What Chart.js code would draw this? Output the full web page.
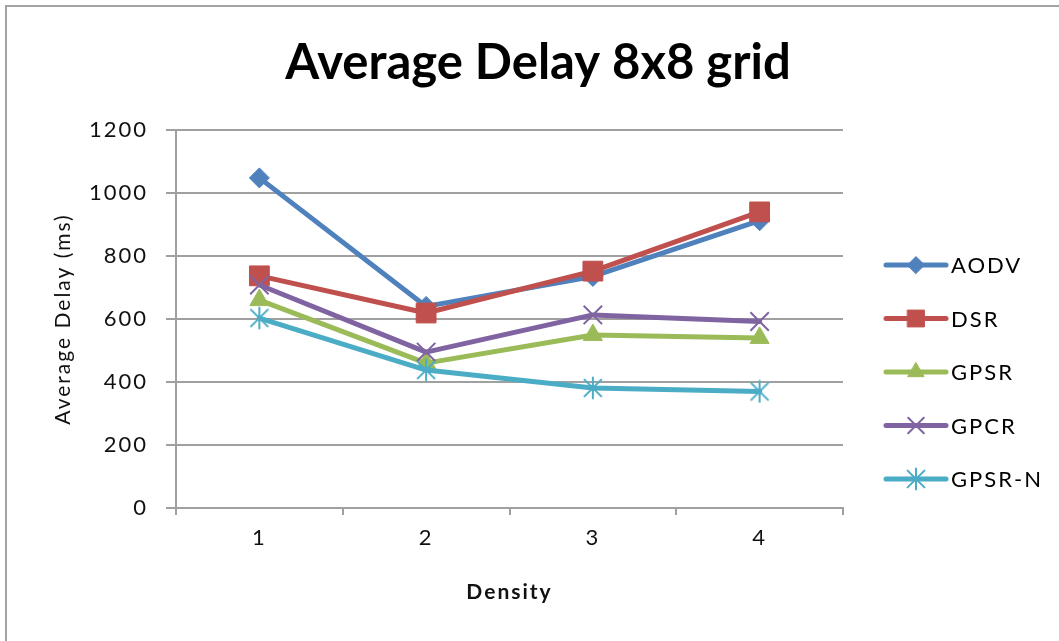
<!DOCTYPE html>
<html>
<head>
<meta charset="utf-8">
<title>Average Delay 8x8 grid</title>
<script src="https://cdn.jsdelivr.net/npm/chart.js@4/dist/chart.umd.min.js"></script>
<style>
  html, body { margin: 0; padding: 0; background: #fff; overflow: hidden; }
  #frame {
    position: absolute; left: 5px; top: 5px;
    width: 1200px; height: 800px;
    border: 2px solid #a3a3a3; box-sizing: border-box;
  }
  #wrap { position: absolute; left: 0; top: 0; width: 1059px; height: 641px; }
</style>
</head>
<body>
<div id="frame"></div>
<div id="wrap"><canvas id="chart"></canvas></div>
<script>
// Average end-to-end delay (ms) per node density
const categories = ['1', '2', '3', '4'];
const aodv  = [1048, 640, 735, 912];
const dsr   = [737, 619, 752, 940];
const gpsr  = [660, 460, 549, 540];
const gpcr  = [708, 495, 613, 592];
const gpsrN = [603, 438, 381, 370];
const seriesNames = ['AODV', 'DSR', 'GPSR', 'GPCR', 'GPSR-N'];
const yTicks = [0, 200, 400, 600, 800, 1000, 1200];

const FONT = 'Lato, "Open Sans", sans-serif';

// six-armed asterisk marker (X plus a vertical bar)
function asterisk(color, size) {
  const c = document.createElement('canvas');
  c.width = size; c.height = size;
  const g = c.getContext('2d');
  const m = size / 2, r = size / 2 - 1.5;
  g.strokeStyle = color; g.lineWidth = 2; g.lineCap = 'round';
  g.beginPath();
  g.moveTo(m, m - r); g.lineTo(m, m + r);
  const d = r * 0.8;
  g.moveTo(m - d, m - d); g.lineTo(m + d, m + d);
  g.moveTo(m + d, m - d); g.lineTo(m - d, m + d);
  g.stroke();
  return c;
}

const colors = ['#4F81BD', '#C0504D', '#9BBB59', '#8064A2', '#4BACC6'];
const styles = [
  { pointStyle: 'rectRot', pointRadius: 10, pointBorderWidth: 1 },
  { pointStyle: 'rect', pointRadius: 14, pointBorderWidth: 1 },
  { pointStyle: 'triangle', pointRadius: 11, pointBorderWidth: 1 },
  { pointStyle: 'crossRot', pointRadius: 13, pointBorderWidth: 2 },
  { pointStyle: asterisk(colors[4], 24), pointRadius: 12, pointBorderWidth: 2 }
];
const values = [aodv, dsr, gpsr, gpcr, gpsrN];

const datasets = values.map((v, i) => Object.assign({
  label: seriesNames[i],
  data: v,
  borderColor: colors[i],
  backgroundColor: colors[i],
  pointBackgroundColor: colors[i],
  pointBorderColor: colors[i],
  borderWidth: 5,
  borderJoinStyle: 'round',
  borderCapStyle: 'round',
  tension: 0,
  order: values.length - i
}, styles[i]));

// spaced-out text for ticks and labels
const spacing = {
  id: 'spacing',
  beforeDraw(chart) { chart.ctx.letterSpacing = '2px'; }
};

// chart title and line+marker legend on the right
const decorations = {
  id: 'decorations',
  afterDraw(chart) {
    const ctx = chart.ctx;
    ctx.save();
    ctx.letterSpacing = '0px';
    ctx.fillStyle = '#000';
    ctx.font = 'bold 49px ' + FONT;
    ctx.textAlign = 'center';
    ctx.textBaseline = 'alphabetic';
    ctx.fillText('Average Delay 8x8 grid', 538, 79);

    ctx.letterSpacing = '2px';
    ctx.font = '22px ' + FONT;
    ctx.textAlign = 'left';
    ctx.textBaseline = 'middle';
    const x0 = 886, x1 = 946, top = 265, step = 53.5;
    chart.data.datasets.forEach((ds, i) => {
      const y = top + i * step;
      ctx.strokeStyle = ds.borderColor;
      ctx.lineWidth = 5;
      ctx.lineCap = 'round';
      ctx.beginPath();
      ctx.moveTo(x0, y); ctx.lineTo(x1, y);
      ctx.stroke();
      ctx.fillStyle = ds.pointBackgroundColor;
      ctx.strokeStyle = ds.pointBorderColor;
      ctx.lineWidth = ds.pointBorderWidth;
      Chart.helpers.drawPoint(ctx, {
        pointStyle: ds.pointStyle,
        radius: ds.pointRadius * 0.85,
        rotation: 0,
        borderWidth: ds.pointBorderWidth
      }, (x0 + x1) / 2, y);
      ctx.fillStyle = '#000';
      ctx.fillText(ds.label, 951, y + 1);
    });
    ctx.restore();
  }
};

new Chart(document.getElementById('chart'), {
  type: 'line',
  data: { labels: categories, datasets },
  plugins: [spacing, decorations],
  options: {
    responsive: true,
    maintainAspectRatio: false,
    animation: false,
    events: [],
    layout: { padding: { top: 130, left: 0, right: 0, bottom: 0 } },
    plugins: { legend: { display: false }, title: { display: false }, tooltip: { enabled: false } },
    scales: {
      x: {
        offset: true,
        afterFit(s) { s.height = 133; },
        border: { display: true, color: '#a0a0a0', width: 2 },
        grid: { offset: true, drawOnChartArea: false, drawTicks: true, tickLength: 7, color: '#a0a0a0', lineWidth: 2 },
        ticks: { color: '#111', padding: 10, font: { family: FONT, size: 22 } },
        title: {
          display: true, text: 'Density', color: '#111',
          font: { family: FONT, size: 21, weight: 'bold' },
          padding: { top: 0, bottom: 36 }
        }
      },
      y: {
        min: 0, max: 1200,
        afterFit(s) { s.width = 176; },
        afterBuildTicks(s) { s.ticks = yTicks.map(v => ({ value: v })); },
        border: { display: true, color: '#a0a0a0', width: 2 },
        grid: { color: '#a0a0a0', lineWidth: 2, drawTicks: true, tickLength: 10 },
        ticks: {
          color: '#111', padding: 18, font: { family: FONT, size: 22 },
          callback: v => String(v)
        },
        title: {
          display: true, text: 'Average Delay (ms)', color: '#111',
          font: { family: FONT, size: 21 },
          padding: { top: 51, bottom: 0 }
        }
      },
      yRight: {
        position: 'right',
        display: true,
        min: 0, max: 1200,
        afterFit(s) { s.width = 216; },
        border: { display: false },
        grid: { display: false, drawTicks: false },
        ticks: { display: false }
      }
    }
  }
});
</script>
</body>
</html>
